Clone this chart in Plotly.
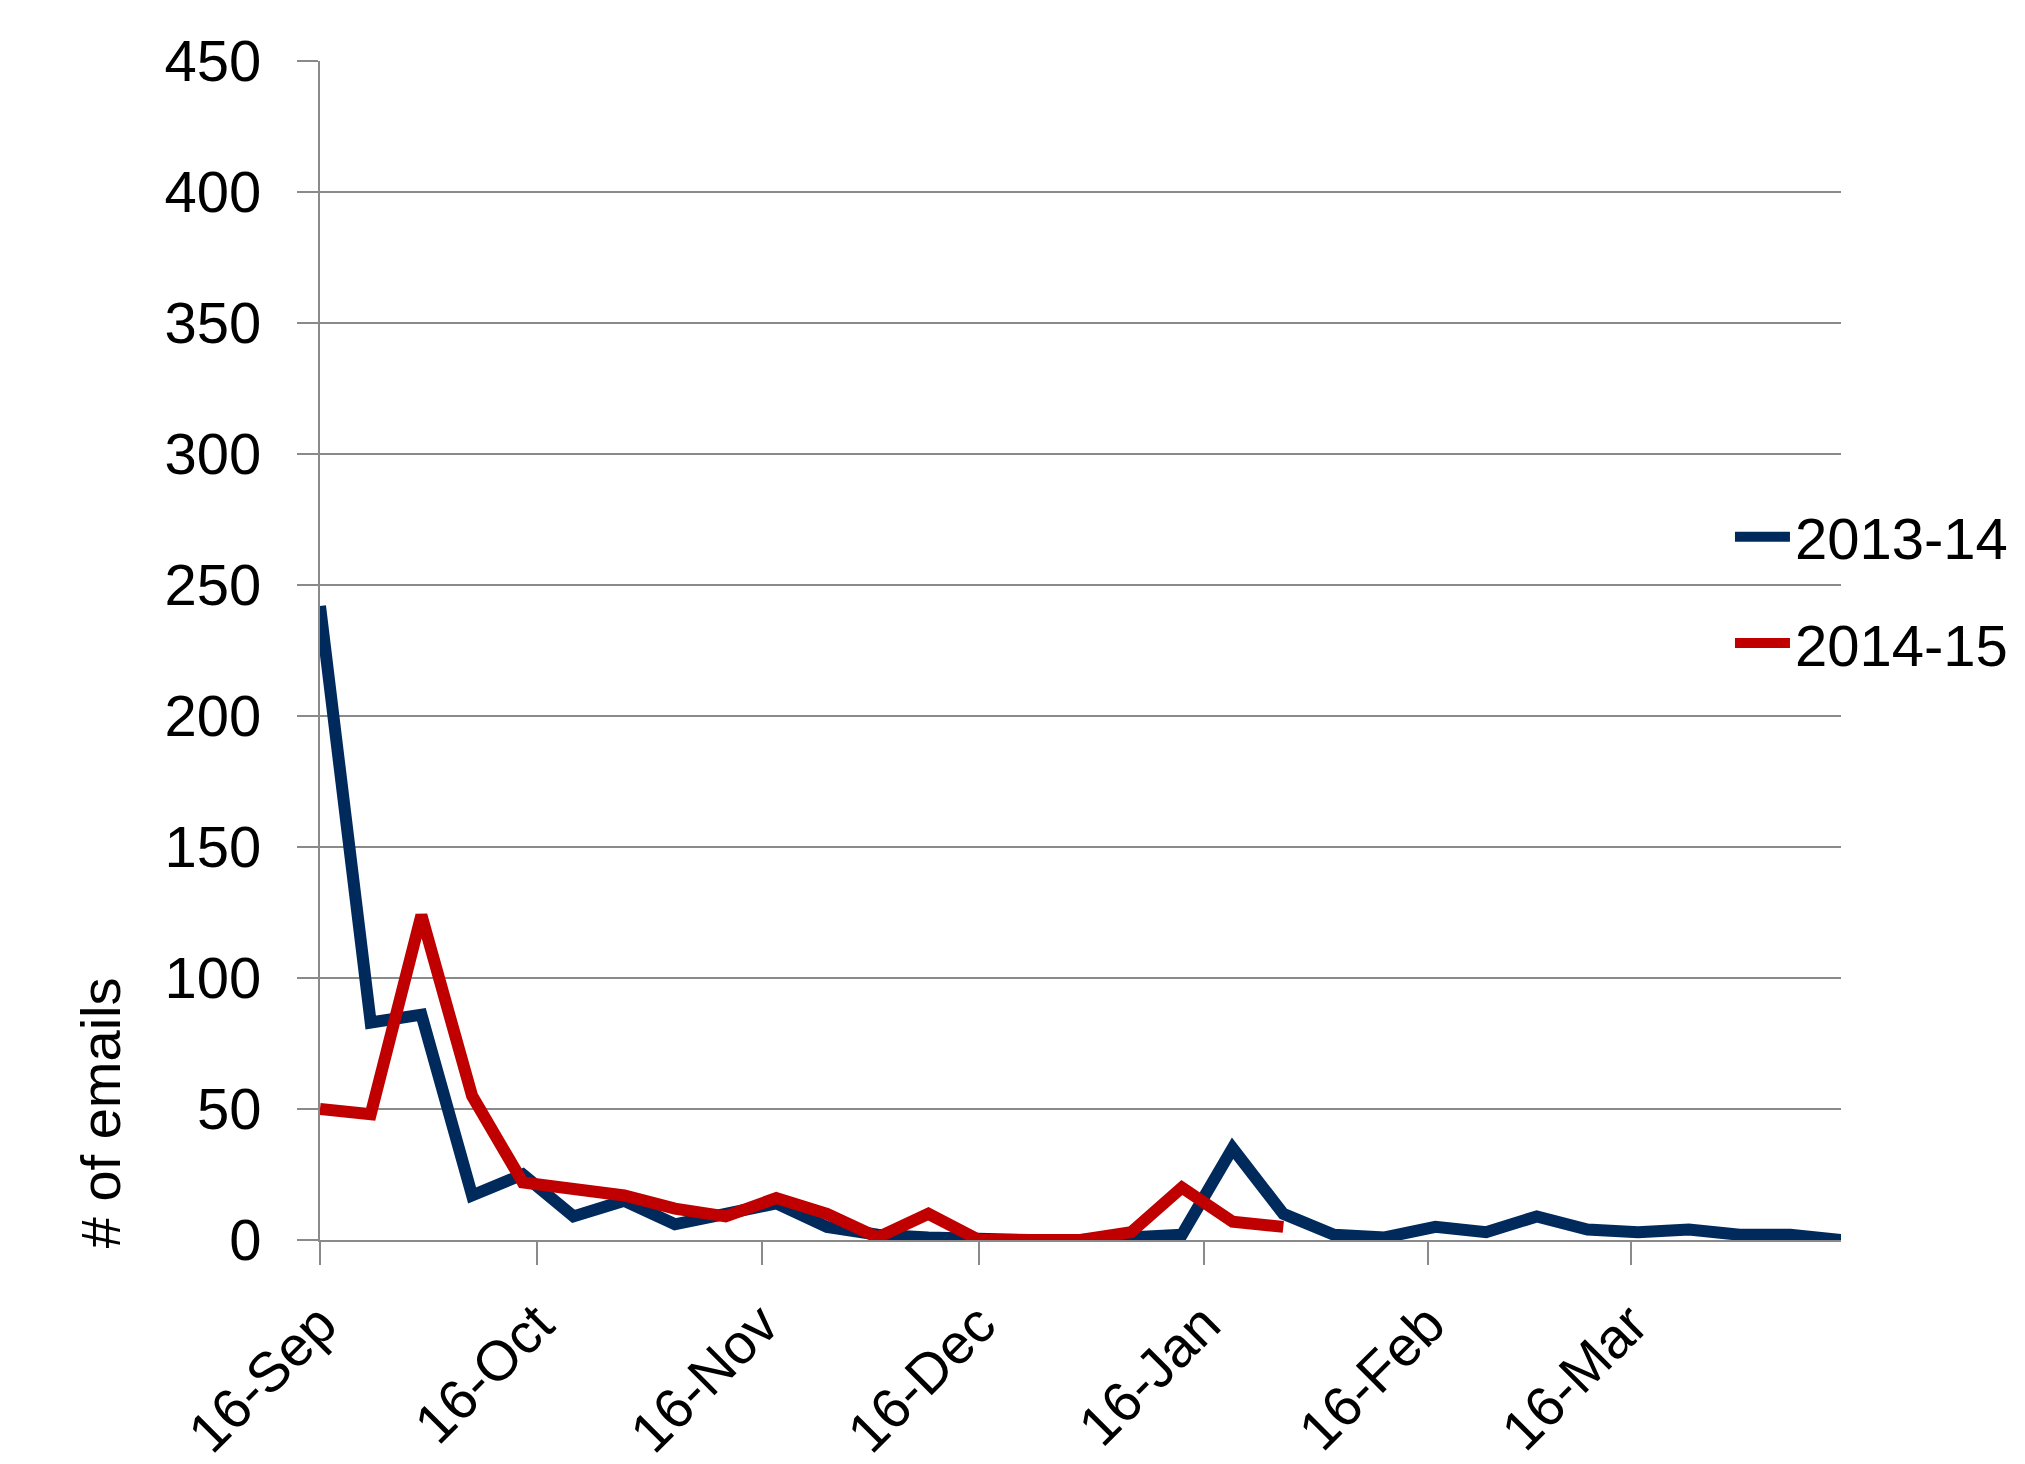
import pandas as pd
import plotly.graph_objects as go

# Weekly email counts, weeks starting 16 Sep
week_start = pd.date_range("2013-09-16", periods=31, freq="7D")

emails_2013_14 = [242, 83, 86, 17, 25, 9, 15, 6, 10, 14, 5, 2, 1, 0, 0, 0,
                  1, 2, 35, 10, 2, 1, 5, 3, 9, 4, 3, 4, 2, 2, 0]
emails_2014_15 = [50, 48, 124, 55, 22, 20, 17, 12, 9, 16, 10, 1, 10, 0, 0, 0,
                  3, 20, 7, 5]

series = [
    ("2013-14", emails_2013_14, "#002A5C"),
    ("2014-15", emails_2014_15, "#C00000"),
]

tick_dates = ["2013-09-16", "2013-10-16", "2013-11-16", "2013-12-16",
              "2014-01-16", "2014-02-16", "2014-03-16"]
tick_labels = ["16-Sep", "16-Oct", "16-Nov", "16-Dec", "16-Jan", "16-Feb", "16-Mar"]

FONT = "Liberation Sans, Arial, sans-serif"
GRID = "#8a8a8a"

fig = go.Figure()
for i, (name, values, color) in enumerate(series):
    fig.add_trace(go.Scatter(
        x=week_start[:len(values)], y=values, name=name, mode="lines",
        line=dict(color=color, width=12),
        legendgroup=f"g{i}",
    ))

fig.update_layout(
    width=2025, height=1464,
    margin=dict(l=320, r=182, t=61, b=224),
    paper_bgcolor="white", plot_bgcolor="white",
    font=dict(family=FONT, size=58, color="black"),
    showlegend=True,
    legend=dict(
        x=0.927, xanchor="left", y=0.634, yanchor="top",
        bgcolor="rgba(0,0,0,0)", font=dict(size=58),
        tracegroupgap=28, itemwidth=55,
    ),
    xaxis=dict(
        type="date",
        range=[week_start[0], week_start[-1]],
        tickvals=tick_dates, ticktext=tick_labels,
        tickangle=-45,
        showgrid=False, zeroline=False,
        showline=True, linecolor=GRID, linewidth=2,
        ticks="outside", ticklen=23, tickcolor=GRID, tickwidth=2,
        tickfont=dict(size=56),
        ticklabelstandoff=4,
        automargin=False,
    ),
    yaxis=dict(
        range=[0, 450], dtick=50,
        showgrid=True, gridcolor=GRID, gridwidth=2,
        zeroline=False,
        showline=True, linecolor=GRID, linewidth=2,
        ticks="outside", ticklen=21, tickcolor=GRID, tickwidth=2,
        tickfont=dict(size=58),
        ticklabelstandoff=24,
        automargin=False,
    ),
    annotations=[dict(
        text="# of emails", textangle=-90,
        xref="paper", yref="paper", x=-0.1445, y=0.1077,
        xanchor="center", yanchor="middle", showarrow=False,
        font=dict(size=56),
    )],
)

fig.write_html("out.html")
